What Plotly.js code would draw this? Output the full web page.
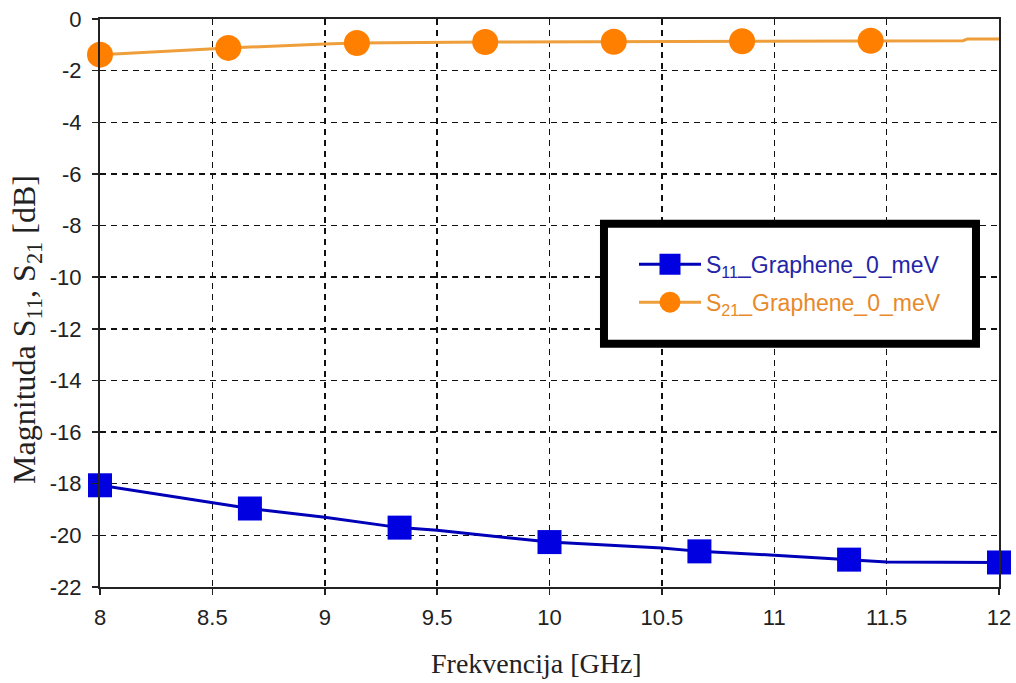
<!DOCTYPE html>
<html>
<head>
<meta charset="utf-8">
<script src="https://cdn.plot.ly/plotly-3.0.1.min.js"></script>
<style>html,body{margin:0;padding:0;background:#fff;}#chart{width:1016px;height:683px;}</style>
</head>
<body>
<div id="chart"></div>
<script>
// S11 curve (dense line) and marker points
var s11LineX = [8, 8.5, 8.667, 9, 9.333, 9.5, 10, 10.5, 10.667, 11, 11.333, 11.5, 12];
var s11LineY = [-18.06, -18.72, -18.96, -19.30, -19.70, -19.80, -20.26, -20.49, -20.62, -20.77, -20.94, -21.03, -21.05];
var s11MarkX = [8, 8.667, 9.333, 10, 10.667, 11.333, 12];
var s11MarkY = [-18.06, -18.96, -19.70, -20.26, -20.62, -20.94, -21.05];

// S21 curve (dense line) and marker points
var s21LineX = [8, 8.5, 8.571, 9, 9.143, 9.714, 10.286, 10.857, 11.429, 11.84, 11.86, 12];
var s21LineY = [-1.38, -1.16, -1.12, -0.97, -0.93, -0.89, -0.88, -0.86, -0.84, -0.84, -0.77, -0.77];
var s21MarkX = [8, 8.571, 9.143, 9.714, 10.286, 10.857, 11.429];
var s21MarkY = [-1.38, -1.12, -0.93, -0.89, -0.88, -0.86, -0.84];

// tick labels
var xTickVals = [8, 8.5, 9, 9.5, 10, 10.5, 11, 11.5, 12];
var xTickText = ['8', '8.5', '9', '9.5', '10', '10.5', '11', '11.5', '12'];
var yTickVals = [0, -2, -4, -6, -8, -10, -12, -14, -16, -18, -20, -22];
var yTickText = ['0', '-2', '-4', '-6', '-8', '-10', '-12', '-14', '-16', '-18', '-20', '-22'];

var xTitle = 'Frekvencija [GHz]';
var yTitle = 'Magnituda S<sub>11</sub>, S<sub>21</sub> [dB]';
var s11Name = '<span style="color:#2424A8">S<sub>11</sub>_Graphene_0_meV</span>';
var s21Name = '<span style="color:#E8892A">S<sub>21</sub>_Graphene_0_meV</span>';

var blueLine = '#0000B8', blueMark = '#0000E0';
var orangeLine = '#EE9E3A', orangeMark = '#FF8000';

var traces = [
  {x: s11LineX, y: s11LineY, mode: 'lines', line: {color: blueLine, width: 3}, showlegend: false, hoverinfo: 'skip'},
  {x: s11MarkX, y: s11MarkY, mode: 'markers', cliponaxis: false, marker: {symbol: 'square', size: 24, color: blueMark}, showlegend: false},
  {x: s21LineX, y: s21LineY, mode: 'lines', line: {color: orangeLine, width: 3}, showlegend: false, hoverinfo: 'skip'},
  {x: s21MarkX, y: s21MarkY, mode: 'markers', cliponaxis: false, marker: {symbol: 'circle', size: 26, color: orangeMark}, showlegend: false},
  // legend entries
  {x: [null], y: [null], mode: 'lines+markers', name: s11Name, legendgroup: 'a',
   line: {color: blueLine, width: 3}, marker: {symbol: 'square', size: 16, color: blueMark, line: {color: blueMark, width: 5}}},
  {x: [null], y: [null], mode: 'lines+markers', name: s21Name, legendgroup: 'b',
   line: {color: orangeLine, width: 3}, marker: {symbol: 'circle', size: 16, color: orangeMark, line: {color: orangeMark, width: 5}}}
];

var tickFont = {family: 'Liberation Sans, Arial, sans-serif', size: 22, color: '#222'};
var titleFont = {family: 'Liberation Serif, Times New Roman, serif', size: 28, color: '#222'};

var layout = {
  width: 1016, height: 683,
  margin: {l: 100, r: 17, t: 19, b: 96, pad: 0},
  paper_bgcolor: '#fff', plot_bgcolor: '#fff',
  showlegend: true,
  xaxis: {
    range: [8, 12], autorange: false,
    tickmode: 'array', tickvals: xTickVals, ticktext: xTickText,
    showline: true, linecolor: '#222', linewidth: 2, mirror: true,
    ticks: 'outside', ticklen: 6, tickwidth: 1.5, tickcolor: '#222', ticklabelstandoff: 4,
    showgrid: true, gridcolor: '#111', gridwidth: 1.5, griddash: '6px,5px',
    zeroline: false, tickfont: tickFont
  },
  yaxis: {
    range: [-22, 0], autorange: false,
    tickmode: 'array', tickvals: yTickVals, ticktext: yTickText,
    showline: true, linecolor: '#222', linewidth: 2, mirror: true,
    ticks: 'outside', ticklen: 6, tickwidth: 1.5, tickcolor: '#222', ticklabelstandoff: 6,
    showgrid: true, gridcolor: '#111', gridwidth: 1.5, griddash: '6px,5px',
    zeroline: false, tickfont: tickFont
  },
  annotations: [
    {text: xTitle, xref: 'paper', yref: 'paper', x: 0.4856, y: -0.134, xanchor: 'center', yanchor: 'middle',
     showarrow: false, font: titleFont},
    {text: yTitle, xref: 'paper', yref: 'paper', x: -0.081, y: 0.453, xanchor: 'center', yanchor: 'middle',
     textangle: -90, showarrow: false, font: {family: titleFont.family, size: 32, color: '#222'}}
  ],
  legend: {
    x: 0.594, y: 0.606, xanchor: 'left', yanchor: 'top',
    bgcolor: 'rgba(0,0,0,0)', borderwidth: 0,
    itemwidth: 62, tracegroupgap: 5, traceorder: 'grouped',
    font: {family: 'Liberation Sans, Arial, sans-serif', size: 23}
  },
  shapes: [{
    type: 'rect', xref: 'paper', yref: 'paper',
    x0: 0.5606, x1: 0.9744, y0: 0.4282, y1: 0.6396,
    line: {color: '#000', width: 8}, fillcolor: '#fff', layer: 'above'
  }]
};

Plotly.newPlot('chart', traces, layout, {displayModeBar: false, staticPlot: true});
</script>
</body>
</html>
